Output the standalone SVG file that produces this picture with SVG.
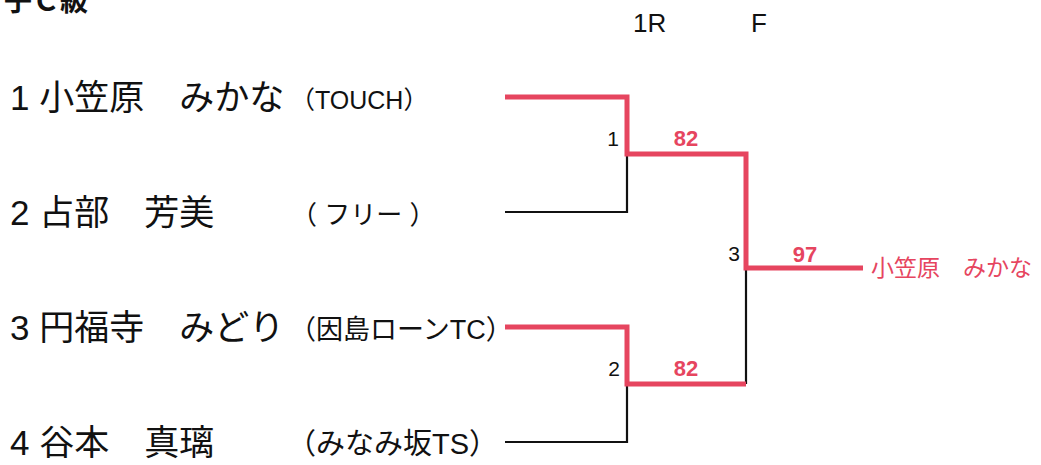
<svg xmlns="http://www.w3.org/2000/svg" width="1041" height="465" viewBox="0 0 1041 465">
<style>
text{font-family:"Liberation Sans","Noto Sans CJK JP",sans-serif;fill:#111}
.name{font-size:35px}
.club{font-size:26px}
.hdr{font-size:26px}
.seed{font-size:21px}
.score{font-size:22px;font-weight:bold;fill:#e6455f;text-anchor:middle}
.win{stroke:#e6455f;stroke-width:5;fill:none;stroke-linejoin:miter;stroke-linecap:butt}
.lose{stroke:#111;stroke-width:2.2;fill:none}
</style>
<rect width="1041" height="465" fill="#fff"/>
<text x="4" y="11" style="font-size:28px;font-weight:bold;font-family:'Noto Sans CJK JP',sans-serif">子Ｃ級</text>
<g id="header">
<text class="hdr" x="633" y="32">1R</text>
<text class="hdr" x="751" y="32">F</text>
</g>
<g id="p1"><text class="name" x="10" y="110">1 小笠原　みかな</text><text class="club" x="290" y="109" style="font-size:25px">（TOUCH）</text></g>
<g id="p2"><text class="name" x="10" y="225">2 占部　芳美</text><text class="club" x="291" y="224">（ フリー ）</text></g>
<g id="p3"><text class="name" x="10" y="340">3 円福寺　みどり</text><text class="club" x="289" y="339" style="font-size:27px">（因島ローンTC）</text></g>
<g id="p4"><text class="name" x="10" y="455">4 谷本　真璃</text><text class="club" x="287" y="454" style="font-size:29px">（みなみ坂TS）</text></g>
<g id="connectors">
<path class="lose" d="M505,212 H627 V154"/>
<path class="lose" d="M505,442 H627 V384"/>
<path class="lose" d="M746,384 V268"/>
<path class="win" d="M505,97 H627 V154 H746 V268 H863"/>
<path class="win" d="M505,327 H627 V384 H746"/>
</g>
<g id="m1"><text class="seed" x="619" y="146" text-anchor="end">1</text><text class="score" x="686" y="146">82</text></g>
<g id="m2"><text class="seed" x="620" y="376" text-anchor="end">2</text><text class="score" x="686" y="376">82</text></g>
<g id="m3"><text class="seed" x="740" y="261" text-anchor="end">3</text><text class="score" x="805" y="262">97</text></g>
<g id="winner"><text x="871" y="276" style="font-size:23px;fill:#e6455f">小笠原　みかな</text></g>
</svg>
